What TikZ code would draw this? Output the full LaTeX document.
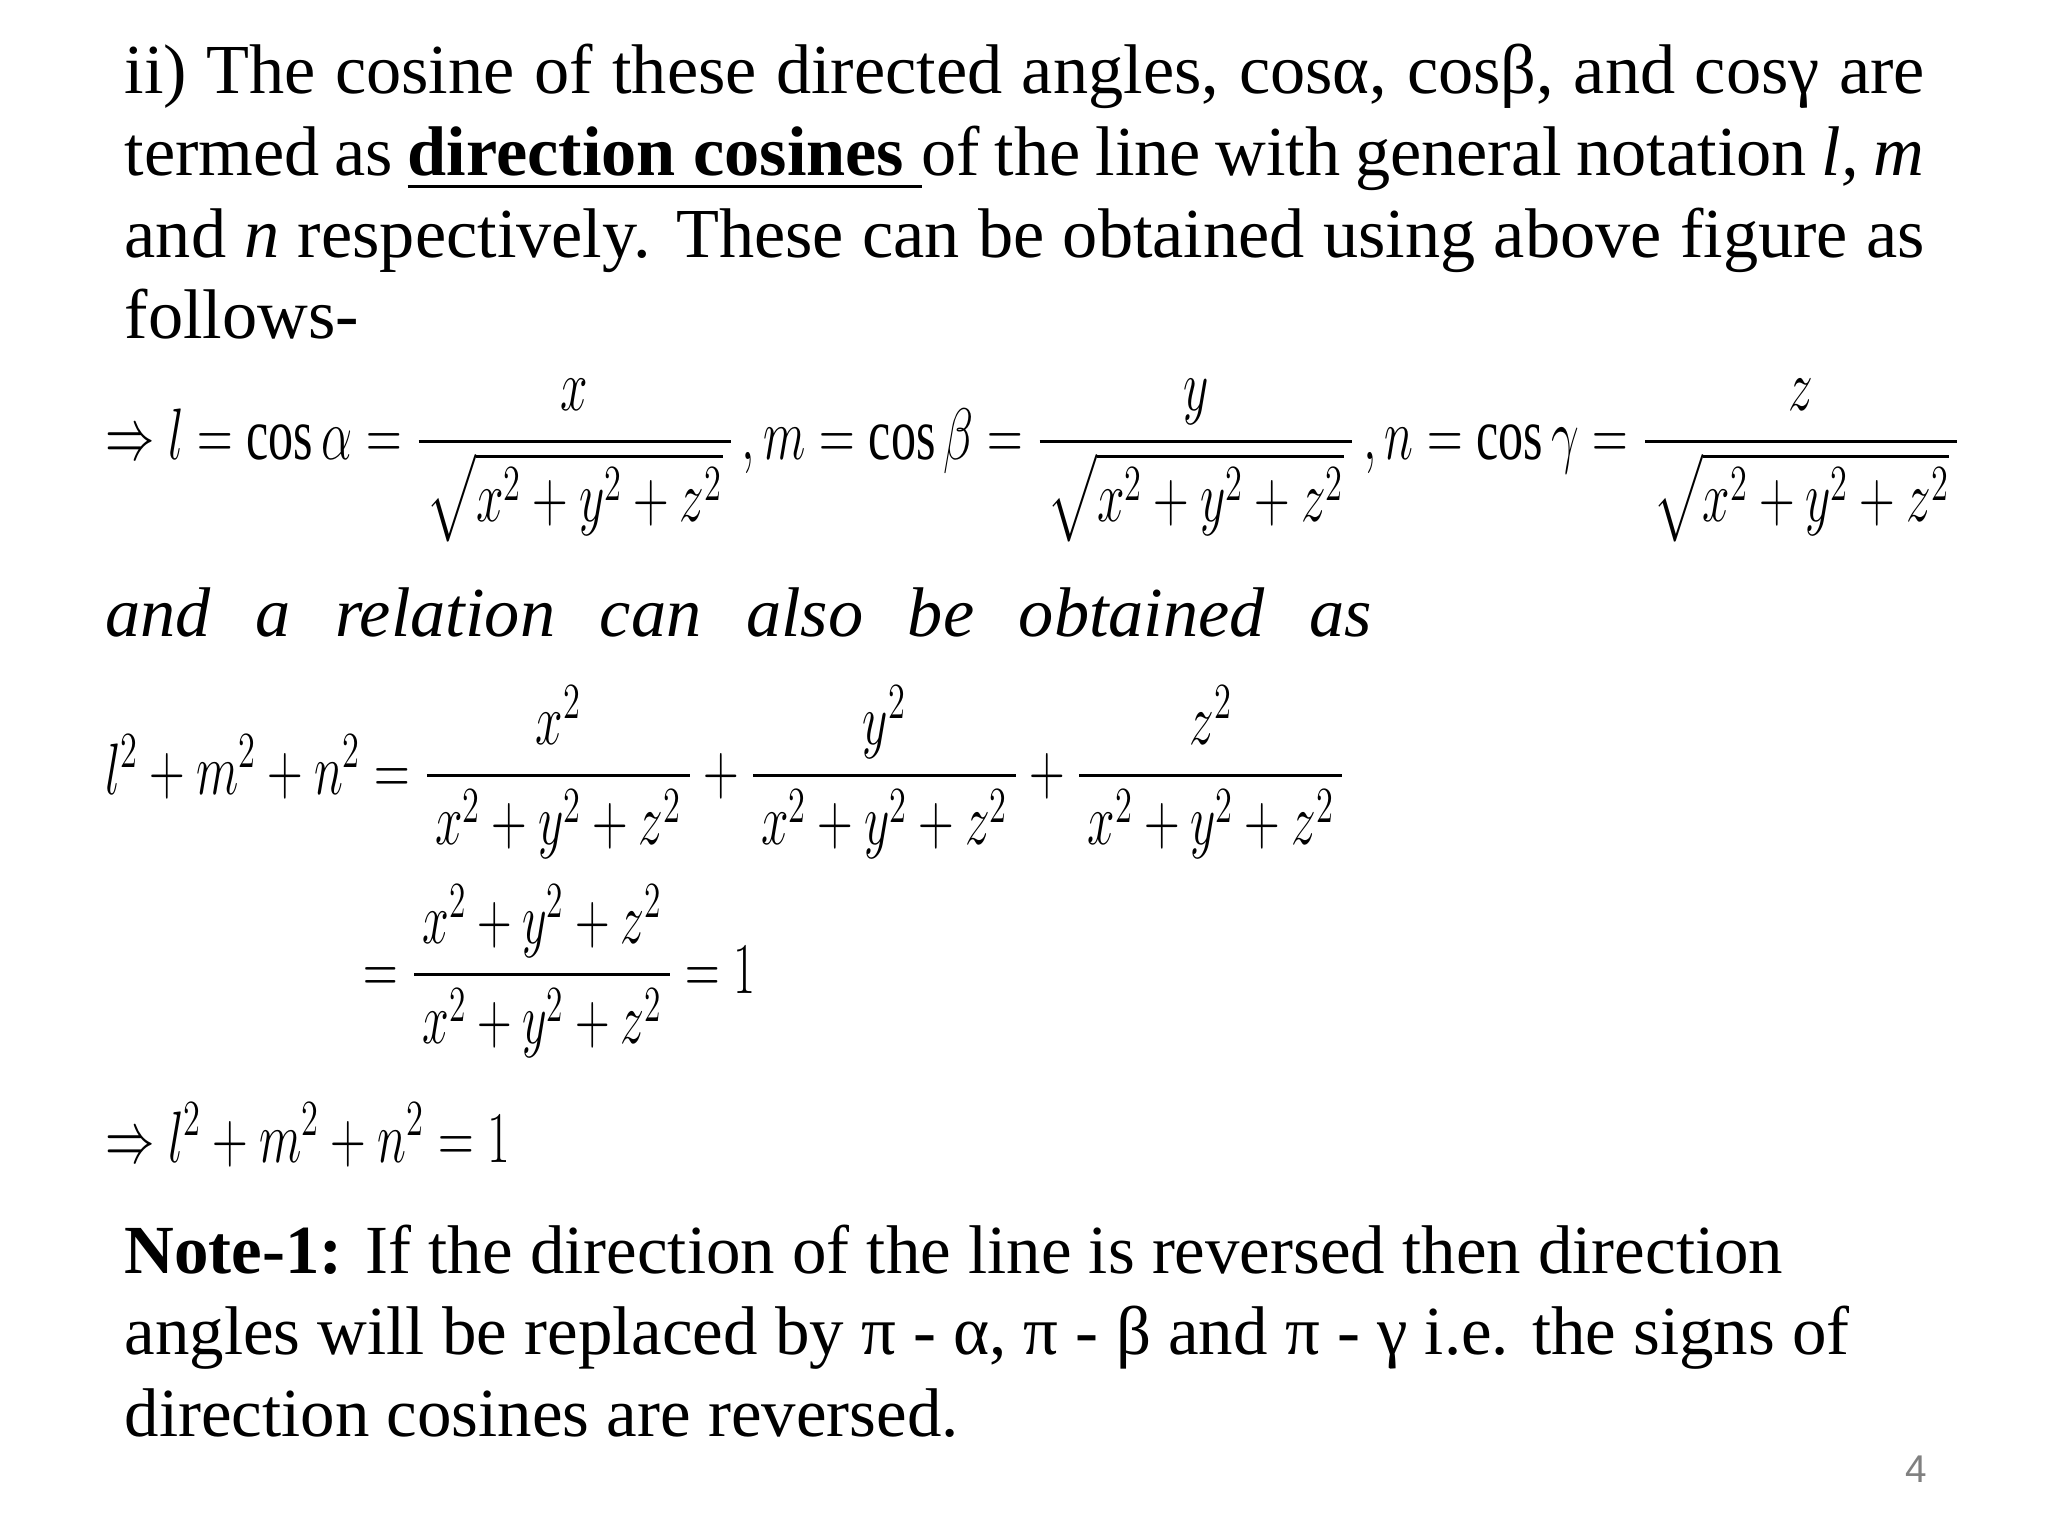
\documentclass[tikz,border=0pt]{standalone}
\usepackage{amsmath}
\usepackage{graphicx}
\usepackage{fontspec}
\setmainfont{Liberation Serif}
\newfontfamily\pgfont{Liberation Sans}
\begin{document}
\begin{tikzpicture}[x=1cm,y=1cm,
  txt/.style={inner sep=0pt,anchor=base west,font=\fontsize{20}{23.2}\selectfont},
  eq/.style={inner sep=0pt,anchor=base west,font=\fontsize{21}{24}\selectfont}]
\useasboundingbox[fill=white] (0,0) rectangle (20.48,-15.36);
\node[txt] (p1) at (1.24,-0.94) {\parbox[t]{18.0cm}{
ii) The cosine of these directed angles, cosα, cosβ, and cosγ are termed as \underline{\textbf{direction cosines }}of the line with general notation \textit{l, m} and \textit{n} respectively. These can be obtained using above figure as follows-}};
\node[eq] (e1) at (1.045,-4.60) {\resizebox{18.55cm}{\height}{$\Rightarrow l=\cos\alpha=\dfrac{x}{\,\sqrt{x^2+y^2+z^2}\,}\,,m=\cos\beta=\dfrac{y}{\,\sqrt{x^2+y^2+z^2}\,}\,,n=\cos\gamma=\dfrac{z}{\,\sqrt{x^2+y^2+z^2}\,}$}};
\node[txt] (rel) at (1.045,-6.37) {\makebox[12.67cm][s]{\itshape and\hfill a\hfill relation\hfill can\hfill also\hfill be\hfill obtained\hfill as}};
\node[eq] (e2) at (1.045,-7.94) {\resizebox{12.4cm}{\height}{$l^2+m^2+n^2=\dfrac{x^2}{\,x^2+y^2+z^2\,}+\dfrac{y^2}{\,x^2+y^2+z^2\,}+\dfrac{z^2}{\,x^2+y^2+z^2\,}$}};
\node[eq] (e3) at (3.63,-9.93) {\resizebox{3.92cm}{\height}{$=\dfrac{x^2+y^2+z^2}{\,x^2+y^2+z^2\,}=1$}};
\node[eq] (e4) at (1.045,-11.62) {\resizebox{4.05cm}{\height}{$\Rightarrow l^2+m^2+n^2=1$}};
\node[txt,font=\fontsize{19.6}{23.2}\selectfont] (note) at (1.24,-12.73) {\parbox[t]{17.5cm}{\raggedright
\textbf{Note-1:} If the direction of the line is reversed then direction angles will be replaced by π - α, π - β and π - γ i.e. the signs of direction cosines are reversed.}};
\node[inner sep=0pt,text=gray,font=\pgfont\fontsize{11}{13}\selectfont] (pg) at (19.16,-14.69) {4};
\end{tikzpicture}
\end{document}
